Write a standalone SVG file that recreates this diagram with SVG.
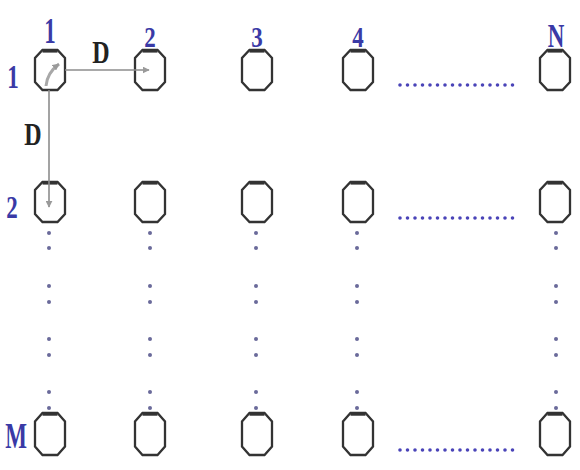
<svg xmlns="http://www.w3.org/2000/svg" xmlns:xlink="http://www.w3.org/1999/xlink" width="580" height="470" viewBox="0 0 580 470">
<style>
.oct{fill:none;stroke:#333;stroke-width:2.3;stroke-linejoin:miter}
.octtop{fill:none;stroke:#333;stroke-width:2.4}
.lbl{font-family:"Liberation Serif","Times New Roman",serif;font-weight:bold;fill:#3a3aa6;text-anchor:middle}
.dl{font-family:"Liberation Serif","Times New Roman",serif;font-weight:bold;fill:#222;text-anchor:middle}
.conn{stroke:#8c8c8c;stroke-width:1.6;fill:none}
.vdot{fill:#6a6a9a}
.hdots{stroke:#4a44b8;stroke-width:3.6;stroke-linecap:round;stroke-dasharray:0 7.5;fill:none}
</style>
<defs>
<g id="oct">
<path class="oct" d="M-7.5,-20 H7.5 L15,-12 V12 L7.5,20 H-7.5 L-15,12 V-12 Z"/>
<path class="octtop" d="M-7.5,-18.6 H7.5"/>
</g>
<g id="vcol">
<circle class="vdot" cx="0" cy="233" r="2"/><circle class="vdot" cx="0" cy="248" r="2"/>
<circle class="vdot" cx="0" cy="286" r="2"/><circle class="vdot" cx="0" cy="302" r="2"/>
<circle class="vdot" cx="0" cy="339" r="2"/><circle class="vdot" cx="0" cy="355" r="2"/>
<circle class="vdot" cx="0" cy="392" r="2"/><circle class="vdot" cx="0" cy="408" r="2"/>
</g>
<marker id="ah" viewBox="0 0 10 10" refX="9" refY="5" markerWidth="7" markerHeight="7" orient="auto" markerUnits="userSpaceOnUse">
<path d="M0,0 L10,5 L0,10 Z" fill="#9a9a9a"/>
</marker>
</defs>
<rect width="580" height="470" fill="#fff"/>

<!-- column labels -->
<g id="col-labels">
<text class="lbl" font-size="23" transform="translate(50,43) scale(1,1.55)">1</text>
<text class="lbl" font-size="23" transform="translate(150,47) scale(1,1.25)">2</text>
<text class="lbl" font-size="23" transform="translate(257,47) scale(1,1.25)">3</text>
<text class="lbl" font-size="23" transform="translate(358,47) scale(1,1.25)">4</text>
<text class="lbl" font-size="23" transform="translate(556,47) scale(1,1.45)">N</text>
</g>
<!-- row labels -->
<g id="row-labels">
<text class="lbl" font-size="23" transform="translate(13,88) scale(1,1.5)">1</text>
<text class="lbl" font-size="23" transform="translate(12,218) scale(1,1.4)">2</text>
<text class="lbl" font-size="23" transform="translate(16,448) scale(1,1.6)">M</text>
</g>

<!-- nodes -->
<g id="n-1-1" transform="translate(50,70)"><use xlink:href="#oct"/></g>
<g id="n-1-2" transform="translate(150,70)"><use xlink:href="#oct"/></g>
<g id="n-1-3" transform="translate(257,70)"><use xlink:href="#oct"/></g>
<g id="n-1-4" transform="translate(358,70)"><use xlink:href="#oct"/></g>
<g id="n-1-N" transform="translate(555,70)"><use xlink:href="#oct"/></g>

<g id="n-2-1" transform="translate(50,202)"><use xlink:href="#oct"/></g>
<g id="n-2-2" transform="translate(150,202)"><use xlink:href="#oct"/></g>
<g id="n-2-3" transform="translate(257,202)"><use xlink:href="#oct"/></g>
<g id="n-2-4" transform="translate(358,202)"><use xlink:href="#oct"/></g>
<g id="n-2-N" transform="translate(555,202)"><use xlink:href="#oct"/></g>

<g id="n-M-1" transform="translate(50,434) scale(1,1.05)"><use xlink:href="#oct"/></g>
<g id="n-M-2" transform="translate(150,434) scale(1,1.05)"><use xlink:href="#oct"/></g>
<g id="n-M-3" transform="translate(257,434) scale(1,1.05)"><use xlink:href="#oct"/></g>
<g id="n-M-4" transform="translate(358,434) scale(1,1.05)"><use xlink:href="#oct"/></g>
<g id="n-M-N" transform="translate(555,434) scale(1,1.05)"><use xlink:href="#oct"/></g>

<!-- connectors -->
<g id="connectors">
<line class="conn" x1="65" y1="70" x2="149" y2="70" marker-end="url(#ah)"/>
<line class="conn" x1="49" y1="90" x2="49" y2="207" marker-end="url(#ah)"/>
<path d="M46,86 Q47,73 59,64" stroke="#a8a8a8" stroke-width="3" fill="none" marker-end="url(#ah)"/>
<text class="dl" font-size="24" transform="translate(101,63) scale(1,1.3)">D</text>
<text class="dl" font-size="24" transform="translate(33,145) scale(1,1.3)">D</text>
</g>

<!-- vertical ellipsis dots -->
<g id="vdots">
<use xlink:href="#vcol" transform="translate(49,0)"/>
<use xlink:href="#vcol" transform="translate(150,0)"/>
<use xlink:href="#vcol" transform="translate(256,0)"/>
<use xlink:href="#vcol" transform="translate(357,0)"/>
<use xlink:href="#vcol" transform="translate(556,0)"/>
</g>

<!-- horizontal ellipsis dots -->
<g id="hdots">
<line class="hdots" x1="400" y1="85" x2="520" y2="85"/>
<line class="hdots" x1="400" y1="218" x2="520" y2="218"/>
<line class="hdots" x1="400" y1="450" x2="520" y2="450"/>
</g>
</svg>
